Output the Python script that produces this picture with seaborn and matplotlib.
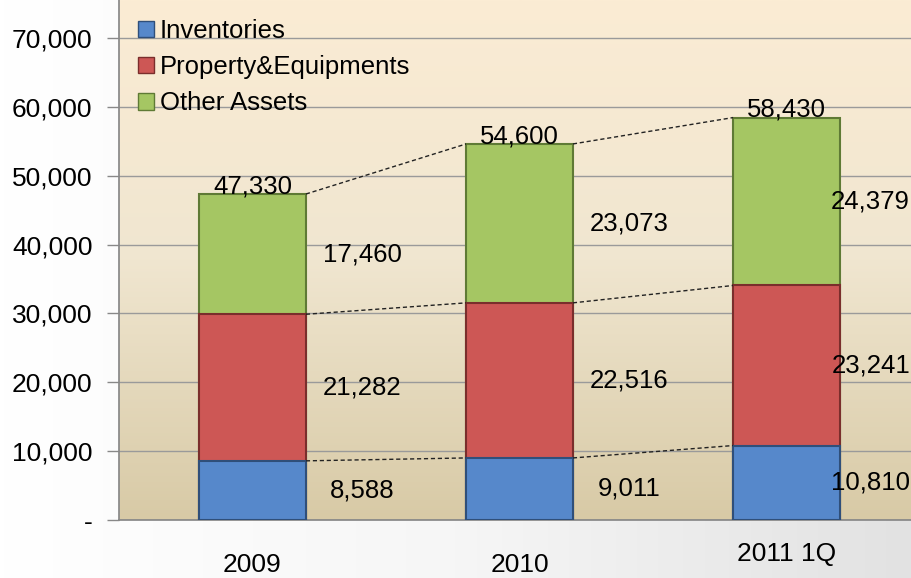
import numpy as np
import pandas as pd
import matplotlib
matplotlib.use("Agg")
import matplotlib.pyplot as plt
import matplotlib.transforms as mtransforms
from matplotlib.patches import Patch
import seaborn as sns

# Data
periods = ["2009", "2010", "2011 1Q"]
inventories = [8588, 9011, 10810]
property_equip = [21282, 22516, 23241]
other_assets = [17460, 23073, 24379]
totals = [47330, 54600, 58430]
series_names = ["Inventories", "Property&Equipments", "Other Assets"]
series_colors = ["#5688CB", "#CD5755", "#A5C663"]
edge_colors = ["#2F4F7A", "#7A2E2C", "#5F7A35"]

df = pd.DataFrame({
    "period": periods,
    "inv": inventories,
    "prop": property_equip,
    "other": other_assets,
})
df["lvl1"] = df["inv"]
df["lvl2"] = df["inv"] + df["prop"]
df["lvl3"] = df["lvl2"] + df["other"]

sns.set_theme(style="white")
plt.rcParams['font.family'] = ['Liberation Sans', 'DejaVu Sans']
plt.rcParams['text.color'] = 'black'
plt.rcParams['xtick.color'] = 'black'
plt.rcParams['ytick.color'] = 'black'

fig = plt.figure(figsize=(9.11, 5.78), dpi=100)
fig.patch.set_facecolor("white")

# faint grey backdrop
bg = fig.add_axes([0, 0, 1, 1], zorder=-5)
bg_grad = np.tile(np.linspace(0, 1, 256), (2, 1))
bg.imshow(bg_grad, cmap=matplotlib.colors.LinearSegmentedColormap.from_list(
    "bg", ["#FFFFFF", "#F6F6F6", "#E2E2E2"]), aspect="auto", extent=[0, 1, 0, 1])
bg.axis("off")

ax = fig.add_axes([119 / 911, 58 / 578, 801 / 911, 520 / 578])
ymax = 75500

# stacked bars: draw cumulative levels from the top down
for col, c, ec in zip(["lvl3", "lvl2", "lvl1"], series_colors[::-1], edge_colors[::-1]):
    sns.barplot(data=df, x="period", y=col, color=c, width=0.4, saturation=1,
                edgecolor=ec, linewidth=1.5, ax=ax, zorder=3)

# gradient plot-area background
grad = np.linspace(0, 1, 256).reshape(-1, 1)
cmap = matplotlib.colors.LinearSegmentedColormap.from_list("pa", ["#FBECD4", "#F0E6D0", "#D8CAA6"])
ax.imshow(grad, cmap=cmap, aspect="auto", extent=[-0.5, 2.5, 0, ymax], zorder=0, origin="upper")

# dashed connectors between cumulative levels
for col in ["lvl1", "lvl2", "lvl3"]:
    vals = df[col].values
    for i in range(len(vals) - 1):
        ax.plot([i + 0.2, i + 0.8], [vals[i], vals[i + 1]], ls=(0, (3, 2)),
                color="#222222", lw=1.0, zorder=4)

# segment labels, right of bars (last column pulled in to stay inside the figure)
x_edge = ax.transData.inverted().transform(
    fig.transFigure.transform((0.999, 0)))[0]
for i in range(len(df)):
    bottoms = [0, df["lvl1"][i], df["lvl2"][i]]
    heights = [df["inv"][i], df["prop"][i], df["other"][i]]
    for b, h in zip(bottoms, heights):
        if i == len(df) - 1:
            ax.text(x_edge, b + h / 2, f"{h:,}", ha="right", va="center",
                    fontsize=18.5, zorder=5)
        else:
            ax.text(i + 0.41, b + h / 2, f"{h:,}", ha="center", va="center",
                    fontsize=18.5, zorder=5)
    ax.text(i, totals[i] + 1100, f"{totals[i]:,}", ha="center", va="center",
            fontsize=18.5, zorder=5)

ax.set_xlim(-0.5, 2.5)
ax.set_ylim(0, ymax)
ax.set_xlabel("")
ax.set_ylabel("")

yt = np.arange(0, 70001, 10000)
ax.set_yticks(yt)
ax.set_yticklabels(["-"] + [f"{v:,}" for v in yt[1:]], fontsize=19)
ax.yaxis.grid(True, color="#9A9A9A", lw=1)
ax.set_axisbelow(True)
for gl in ax.get_ygridlines():
    gl.set_zorder(1)

ax.set_xticks(range(3))
ax.set_xticklabels(periods, fontsize=19, family=['Liberation Sans Narrow', 'Liberation Sans', 'DejaVu Sans'])
ax.set_xticks([-0.5, 0.5, 1.5], minor=True)
ax.tick_params(axis="x", which="major", length=0, pad=24)
ax.tick_params(axis="x", which="minor", length=7.2, color="#888888", width=1, direction="out")
ax.tick_params(axis="y", length=8.6, color="#888888", width=1, direction="out", pad=10.5, left=True)
lab = ax.get_xticklabels()[2]
lab.set_transform(lab.get_transform() + mtransforms.ScaledTranslation(0, 11 / 100, fig.dpi_scale_trans))

for s in ["top", "right"]:
    ax.spines[s].set_visible(False)
ax.spines["left"].set_color("#888888")
ax.spines["bottom"].set_color("#888888")

handles = [Patch(facecolor=c, edgecolor=ec, lw=1) for c, ec in zip(series_colors, edge_colors)]
ax.legend(handles, series_names, loc="upper left", bbox_to_anchor=(0.0, 1.0), frameon=False,
          fontsize=18.5, handlelength=0.6, handleheight=0.6, handletextpad=0.25, labelspacing=0.47,
          borderaxespad=0.35)

fig.savefig("out.png", dpi=100)
